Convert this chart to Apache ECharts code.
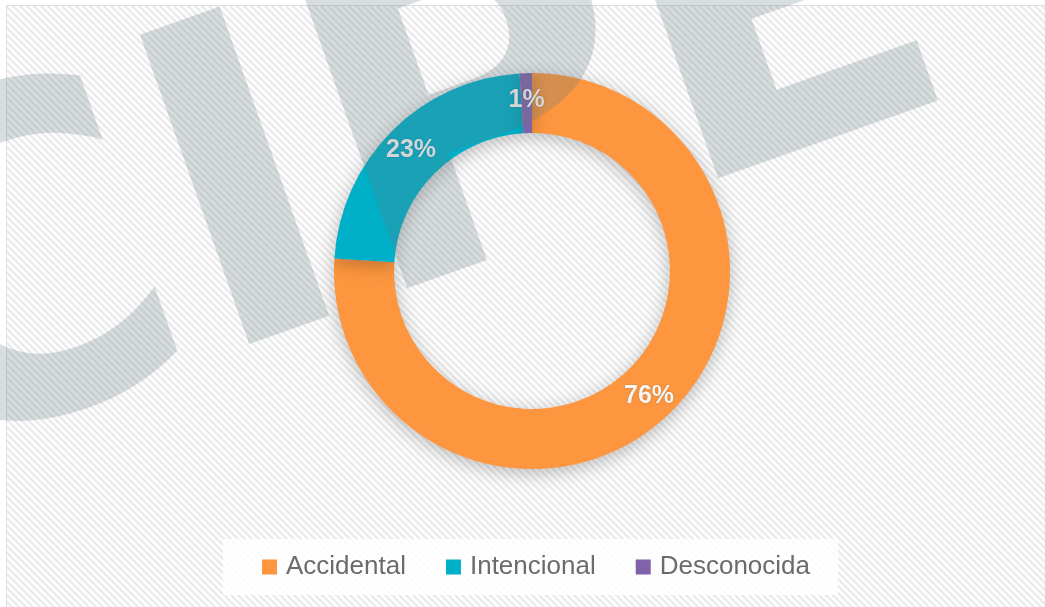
<!DOCTYPE html>
<html>
<head>
<meta charset="utf-8">
<script src="https://cdn.jsdelivr.net/npm/echarts@6/dist/echarts.min.js"></script>
<style>
  html, body { margin: 0; padding: 0; background: #fff; }
  #chart { width: 1045px; height: 607px; }
</style>
</head>
<body>
<div id="chart"></div>
<script>
// data
const categories = ['Accidental', 'Intencional', 'Desconocida'];
const shares = [76, 23, 1];
const sliceColors = ['#fd963f', '#00afc8', '#8062a8'];
const watermark = 'CIPE';

// diagonal hatch used for the panel
const hatch = (() => {
    const s = 7;
    const c = document.createElement('canvas');
    c.width = s; c.height = s;
    const g = c.getContext('2d');
    g.fillStyle = '#ffffff';
    g.fillRect(0, 0, s, s);
    g.strokeStyle = '#ebebeb';
    g.lineWidth = 2.6;
    for (let k = -1; k <= 1; k++) {
        g.beginPath();
        g.moveTo(-s, -s + k * s);
        g.lineTo(2 * s, 2 * s + k * s);
        g.stroke();
    }
    return c;
})();

const chart = echarts.init(document.getElementById('chart'));
chart.setOption({
    backgroundColor: '#ffffff',
    animation: false,
    graphic: [
        {
            type: 'rect',
            z: -100,
            silent: true,
            shape: { x: 6.5, y: 5.5, width: 1050, height: 610 },
            style: { fill: { image: hatch, repeat: 'repeat' }, stroke: '#dedede', lineWidth: 1 }
        },
        {
            // big tilted watermark laid over the chart
            type: 'text',
            z: 100,
            silent: true,
            x: 236,
            y: 194,
            rotation: 0.34,
            style: {
                text: watermark,
                x: -409,
                y: 29,
                font: 'bold 450px "DejaVu Sans"',
                fill: 'rgba(100,118,128,0.25)',
                align: 'left',
                verticalAlign: 'middle'
            }
        }
    ],
    legend: {
        left: 223,
        top: 539,
        padding: [15, 28, 15, 39],
        backgroundColor: 'rgba(255,255,255,0.85)',
        itemWidth: 15,
        itemHeight: 15,
        itemGap: 40,
        icon: 'rect',
        textStyle: {
            color: '#6b6b6b',
            fontSize: 26,
            fontFamily: 'Liberation Sans',
            padding: [0, 0, 0, 4]
        },
        data: categories
    },
    series: [
        {
            type: 'pie',
            center: [532, 271],
            radius: [138, 198],
            startAngle: 90,
            clockwise: true,
            avoidLabelOverlap: false,
            itemStyle: {
                shadowBlur: 18,
                shadowColor: 'rgba(0,0,0,0.25)',
                shadowOffsetY: 4
            },
            label: {
                show: true,
                position: 'inside',
                formatter: '{c}%',
                color: '#f6f6f6',
                fontSize: 25,
                fontWeight: 'bold',
                fontFamily: 'Liberation Sans',
                textShadowColor: 'rgba(0,0,0,0.25)',
                textShadowBlur: 2
            },
            labelLine: { show: false },
            emphasis: { disabled: true },
            data: categories.map((name, i) => ({
                name: name,
                value: shares[i],
                itemStyle: { color: sliceColors[i] }
            }))
        }
    ]
});
</script>
</body>
</html>
